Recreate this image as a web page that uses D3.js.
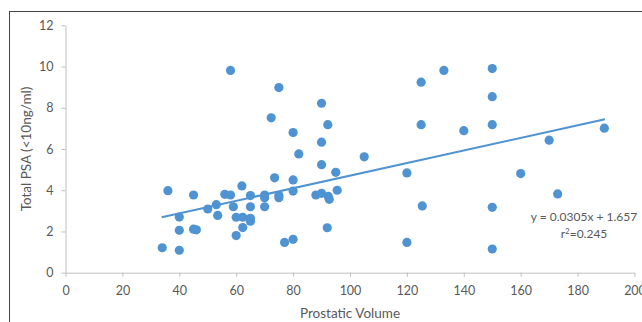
<!DOCTYPE html>
<html>
<head>
<meta charset="utf-8">
<script src="https://cdn.jsdelivr.net/npm/d3@7"></script>
<style>
  body { margin: 0; background: #fff; }
  #chart text { font-family: Lato, "Open Sans", sans-serif; fill: #595959; }
</style>
</head>
<body>
<div id="chart"></div>
<script>
// prostatic volume (x) and total PSA (y)
let volume = [34, 36, 40, 40, 40, 45, 45, 46, 50, 53, 53.5, 56, 58, 58, 59, 60, 60, 62, 62.3, 62.3,
    65, 65, 65, 65, 70, 70, 70, 72.3, 73.5, 75, 75, 75, 77, 80, 80, 80, 80, 82, 88, 90,
    90, 90, 90, 92.2, 92.4, 92.7, 92, 95, 95.5, 105, 120, 120, 125, 125, 125.4, 133, 140, 150, 150, 150,
    150, 150, 160, 170, 173, 189.4]
let psa = [1.21, 3.98, 2.7, 2.06, 1.09, 3.77, 2.11, 2.08, 3.09, 3.3, 2.78, 3.8, 3.77, 9.81, 3.2, 2.69, 1.8, 4.21, 2.69, 2.19,
    3.74, 3.2, 2.64, 2.5, 3.77, 3.64, 3.2, 7.51, 4.6, 8.98, 3.74, 3.64, 1.47, 6.8, 4.5, 3.96, 1.62, 5.76, 3.77, 8.22,
    6.33, 5.24, 3.85, 7.18, 3.7, 3.56, 2.18, 4.87, 4.0, 5.62, 4.84, 1.47, 9.24, 7.18, 3.24, 9.81, 6.89, 9.9, 8.54, 7.18,
    3.17, 1.15, 4.81, 6.43, 3.82, 7.01]

let xTicks = [0, 20, 40, 60, 80, 100, 120, 140, 160, 180, 200]
let yTicks = [0, 2, 4, 6, 8, 10, 12]

// linear fit shown on the chart
let slope = 0.0305
let intercept = 1.657
let fitRange = [33.8, 189.6]

const w = 642
const h = 322
const blue = "#4f93d2"

const svg = d3.select('#chart')
    .append('svg')
    .attr('width', w)
    .attr('height', h)

// frame around the figure
svg.append('rect')
    .attr('x', 9.5)
    .attr('y', 11.5)
    .attr('width', 700)
    .attr('height', 400)
    .attr('fill', 'none')
    .attr('stroke', '#444')
    .attr('stroke-width', 1)

const xScale = d3.scaleLinear()
    .domain([0, 200])
    .range([65.5, 634.5])

const yScale = d3.scaleLinear()
    .domain([0, 12])
    .range([272.7, 25.3])

// axes
const xAxis = d3.axisBottom(xScale)
    .tickValues(xTicks)
    .tickSize(4)
    .tickSizeOuter(0)
    .tickPadding(9)

const gx = svg.append('g')
    .attr('transform', `translate(0, ${yScale(0)})`)
    .call(xAxis)
gx.select('.domain').attr('stroke', '#bfbfbf')
gx.selectAll('line').attr('stroke', '#bfbfbf')
gx.selectAll('text').style('font-size', '12.5px')

const yAxis = d3.axisLeft(yScale)
    .tickValues(yTicks)
    .tickSize(4)
    .tickSizeOuter(0)
    .tickPadding(8)

const gy = svg.append('g')
    .attr('transform', `translate(${xScale(0)}, 0)`)
    .call(yAxis)
gy.select('.domain').attr('stroke', '#bfbfbf')
gy.selectAll('line').attr('stroke', '#bfbfbf')
gy.selectAll('text').style('font-size', '12.5px')

// points
const points = volume.map((v, i) => [v, psa[i]])

svg.append('g')
    .selectAll('circle')
    .data(points)
    .enter()
    .append('circle')
    .attr('cx', d => xScale(d[0]))
    .attr('cy', d => yScale(d[1]))
    .attr('r', 4.6)
    .attr('fill', blue)

// trend line
const line = d3.line()
    .x(d => xScale(d))
    .y(d => yScale(slope * d + intercept))

svg.append('path')
    .datum(fitRange)
    .attr('d', line)
    .attr('fill', 'none')
    .attr('stroke', blue)
    .attr('stroke-width', 2)

// equation
svg.append('text')
    .attr('x', 584)
    .attr('y', 221)
    .attr('text-anchor', 'middle')
    .style('font-size', '12px')
    .text('y = 0.0305x + 1.657')

const r2 = svg.append('text')
    .attr('x', 584)
    .attr('y', 238)
    .attr('text-anchor', 'middle')
    .style('font-size', '12px')
r2.append('tspan').text('r')
r2.append('tspan').attr('dy', -4).style('font-size', '8px').text('2')
r2.append('tspan').attr('dy', 4).text('=0.245')

// axis titles
svg.append('text')
    .attr('x', 350)
    .attr('y', 318)
    .attr('text-anchor', 'middle')
    .style('font-size', '13.5px')
    .text('Prostatic Volume')

svg.append('text')
    .attr('transform', 'translate(31, 149) rotate(-90)')
    .attr('text-anchor', 'middle')
    .style('font-size', '13.5px')
    .text('Total PSA (<10ng/ml)')
</script>
</body>
</html>
